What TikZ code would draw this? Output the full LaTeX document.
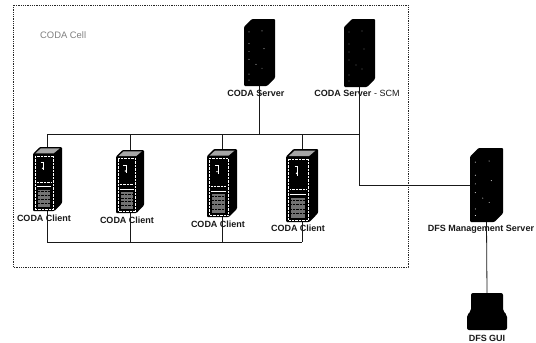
\documentclass[tikz,border=0pt]{standalone}
\usepackage{fontspec}
\setmainfont{Liberation Sans}
\tikzset{
  device/.style={inner sep=0pt,outer sep=0pt,rectangle},
  lbl/.style={font=\fontsize{9}{10}\selectfont\bfseries,inner sep=0pt,text=black!90},
  link/.style={line width=0.8pt,draw=black!90},
  frame/.style={draw=black!85,line width=0.8pt,densely dotted},
}
\newcommand{\drawserver}[3]{% name, width, height
  \begin{scope}[shift={(#1.north west)},xscale=#2/31,yscale=#3/68]
    \fill[black,rounded corners=1pt] (8,0) -- (31,0) -- (31,60) -- (23,68) -- (0,68) -- (0,8) -- cycle;
    \foreach \a/\b in {5/13,18/12,5/25,5/33,5/41,5/56,12/46,18/50,5/62,20/30}
      \fill[white] (\a,\b) circle (0.45);
  \end{scope}}
\newcommand{\drawclient}[3]{% name, width, height
  \begin{scope}[shift={(#1.north west)},xscale=#2/30,yscale=#3/66]
    \fill[black,rounded corners=1pt] (7,0) -- (30,0) -- (30,58) -- (22,66) -- (0,66) -- (0,7) -- cycle;
    \fill[black!35] (8,1.5) -- (27.5,1.5) -- (21.5,6.5) -- (2.5,6.5) -- cycle;
    \draw[white,line width=0.4pt,densely dotted] (2,9) rectangle (21,64);
    \draw[white,line width=0.7pt] (8,16) -- (11,16) -- (11,24);
    \fill[white] (10,22) circle (0.8);
    \draw[white,line width=0.4pt,densely dotted] (4,36) -- (19,36);
    \draw[white,line width=0.7pt] (4,41) -- (19,41);
    \fill[black!55] (5,44) rectangle (18,62);
    \foreach \yy in {46,50,54,58}
      \draw[black,line width=0.4pt,densely dotted] (5,\yy) -- (18,\yy);
  \end{scope}}
\begin{document}
\begin{tikzpicture}[x=1pt,y=-1pt]
  \useasboundingbox (0,0) rectangle (536,343);
  \fill[white] (0,0) rectangle (536,343);
  \draw[frame] (13,5) rectangle (408,267);
  \node[anchor=west,inner sep=0pt,text=black!50,font=\fontsize{9.4}{10}\selectfont] (cell) at (40,35) {CODA Cell};

  \node[device,minimum width=31pt,minimum height=67pt] (s1) at (259.5,52.5) {};
  \node[device,minimum width=31pt,minimum height=68pt] (s2) at (359.5,53) {};
  \node[device,minimum width=29pt,minimum height=64pt] (c1) at (47.5,179) {};
  \node[device,minimum width=28pt,minimum height=63pt] (c2) at (130,181.5) {};
  \node[device,minimum width=30pt,minimum height=68pt] (c3) at (222,183) {};
  \node[device,minimum width=32pt,minimum height=73pt] (c4) at (302,185.5) {};
  \node[device,minimum width=33pt,minimum height=74pt] (d) at (486.5,185) {};
  \node[device,minimum width=40pt,minimum height=37pt] (g) at (487,311.5) {};

  \coordinate (busr) at (s2.south |- 0,134);
  \coordinate (busb) at (c4.south |- 0,242);
  \coordinate (bend) at (s2.south |- 0,185);

  \draw[link] (c1.north) |- (busr);
  \draw[link] (c2.north) -- (c2.north |- busr);
  \draw[link] (c3.north) -- (c3.north |- busr);
  \draw[link] (c4.north) -- (c4.north |- busr);
  \draw[link] (s1.south) -- (s1.south |- busr);
  \draw[link] (s2.south) -- (bend) -- (d.west |- bend);
  \draw[link] (c1.south) |- (busb);
  \draw[link] (c2.south) -- (c2.south |- busb);
  \draw[link] (c3.south) -- (c3.south |- busb);
  \draw[link] (c4.south) -- (busb);
  \draw[link] (d.south) -- (g.north);

  \drawserver{s1}{31}{67}
  \drawserver{s2}{31}{68}
  \drawserver{d}{33}{74}
  \drawclient{c1}{29}{64}
  \drawclient{c2}{28}{63}
  \drawclient{c3}{30}{68}
  \drawclient{c4}{32}{73}
  \begin{scope}[shift={(g.north west)}]
    \fill[black,rounded corners=2pt] (4,0) -- (36,0) -- (36,18) -- (40,22) -- (40,37) -- (0,37) -- (0,22) -- (4,18) -- cycle;
  \end{scope}

  \node[lbl] (ls1) at (256,93) {CODA Server};
  \node[lbl] (ls2) at (357,93) {CODA Server {\mdseries - SCM}};
  \node[lbl] (lc1) at (44,218) {CODA Client};
  \node[lbl] (lc2) at (127,220) {CODA Client};
  \node[lbl] (lc3) at (218,224) {CODA Client};
  \node[lbl] (lc4) at (298,228) {CODA Client};
  \node[lbl] (ld) at (481,229) {DFS Management Server};
  \node[lbl] (lg) at (487,338) {DFS GUI};
\end{tikzpicture}
\end{document}
